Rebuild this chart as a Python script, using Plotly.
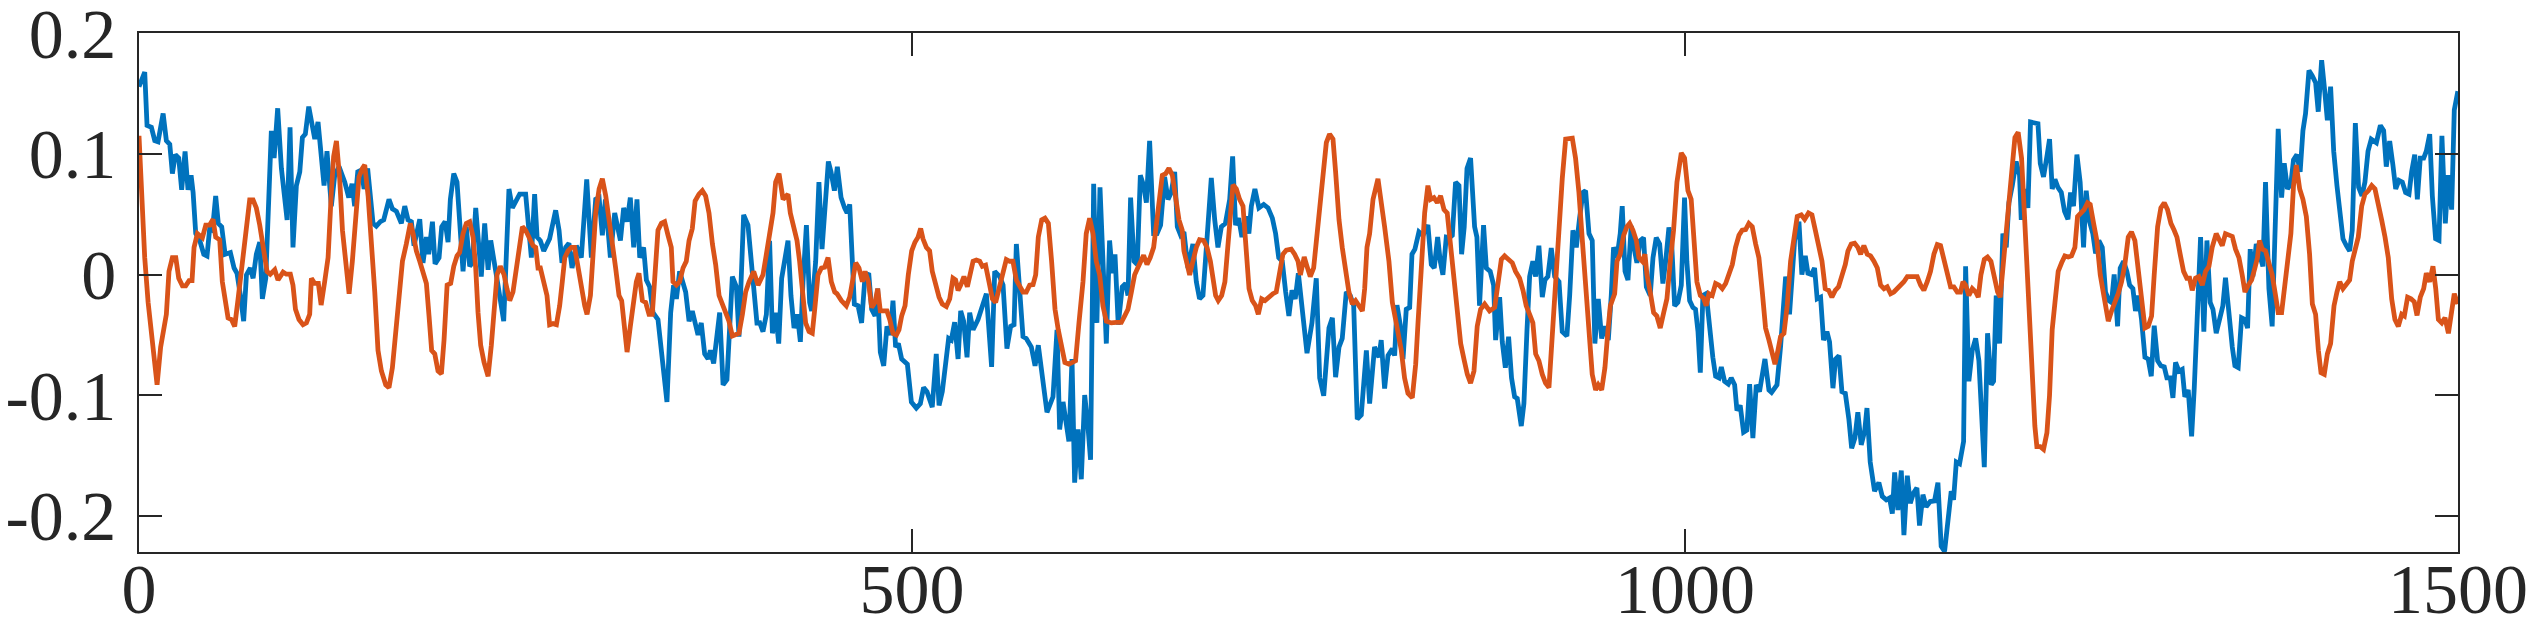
import plotly.graph_objects as go

blue_x = [0, 3.7, 5.2, 8, 10.2, 12.3, 15.6, 17.7, 19.9, 21.6, 23.5, 25.7, 27.6, 29.8, 31.7, 33.7, 35, 36.7, 39.3, 41.9, 44, 45.7, 47.5, 49.6, 51.3, 53.5, 55.7, 59.1, 61.5, 63.4, 65.6, 67.7, 69.5, 72, 73.8, 75.9, 78.1, 79.8, 82, 83.7, 85.6, 87.4, 89.7, 92.1, 95.8, 97.7, 99.6, 101.8, 104, 105.7, 107.6, 109.8, 111.5, 113.7, 115.8, 118, 119.7, 121.6, 124.4, 126.6, 129.4, 133.1, 135.7, 137.8, 139.5, 141.5, 143.8, 145.6, 147.9, 151.4, 153.5, 156.1, 158.3, 161.7, 163.9, 166.5, 169.7, 171.9, 174, 176.2, 177.9, 181.6, 183.7, 185.9, 187.4, 189.8, 191.5, 194.1, 195.8, 198, 199.9, 201.4, 203.6, 205.7,
          209.6, 211.7, 213.9, 215.6, 217.8, 221.4, 223.6, 225.8, 227.5, 232.2, 235.9, 239.3, 241.5, 246.2, 250.1, 253.8, 255.9, 257.5, 259.6, 261.8, 265.6, 269.5, 271.7, 273.6, 276, 278.1, 280.1, 282.9, 286.1, 289.6, 292.6, 295.4, 297.6, 299.7, 301.7, 304.9, 307.7, 311.4, 313.5, 315.7, 317.8, 320, 322.1, 323.9, 326.4, 328.2, 330.3, 332.5, 335.7, 341.5, 343.9, 345.8, 347.6, 349.7, 353.6, 355.8, 357.9, 361.6, 363.7, 365.9, 368.1, 369.6, 371.7, 375.6, 377.8, 380.3, 383.8, 386.4, 388.1, 391.1, 393.9,
          399.7, 401.5, 403.6, 405.8, 407.9, 409.7, 411.8, 413.8, 415.7, 417.6, 419.8, 421.7, 423.7, 425.8, 427.8, 429.5, 431.7, 433.8, 435.1, 437.7, 439.8, 441.8, 443.7, 445.9, 447.6, 449.8, 451.7, 454.1, 456.4, 458, 459.7, 462.7, 465.1, 467.4, 469.6, 472, 473.9, 476.1, 477.8, 479.5, 481.7, 483.8, 486, 487.7, 489.4, 491.2, 493.3, 497, 499.6, 502.8, 505.4, 507.5, 509.7, 513.1, 515.7, 517.5, 519.6, 521.8, 523.7, 525.4, 527.6, 529.8, 531.5, 533.4, 535.6, 537.3, 539.5, 542.7, 545.9, 548.1, 551.5, 553.5, 556.7, 558.9, 561.4, 563.8, 566, 567.5, 571.8, 573.9, 577.2, 579.6, 581.7, 584.7, 587.3, 591.2, 593.8, 595.5, 597.7, 601.5, 603.5,
          605.2, 607.4, 609.5, 611.7, 613.8, 615.5, 617.5, 619.6, 621.6, 623.5, 625.7, 627.8, 629.6, 631.3, 633.4, 636, 638.2, 639.7, 641.4, 643.6, 645.7, 647.7, 649.8, 651.6, 653.7, 656.3, 658.5, 660.8, 663.4, 665.6, 667.7, 669.9, 671.6, 673.8, 675.9, 678.5, 681.7, 683.9, 686, 688.2, 690.4, 693.6, 695.8, 697.9, 700.1, 702.7, 705.5, 707.4, 709.3, 711.3, 713.4, 715.8, 717.9, 719.5, 721.8, 724.4, 727.5, 730.3, 733.1, 735.2, 737.2, 739.5, 741.7, 743.8, 745.8, 747.9, 749.9, 752.5, 755.5, 758.7, 761.5, 763.7, 766.3, 769.7, 771.9, 774, 776.2, 778.3, 780.9, 783.5, 785.7, 788, 790.6, 793.9,
          796, 799.2, 802, 803.5, 805.7, 807.9, 810.7, 812.2, 813.7, 815.8, 817.6, 819.7, 821.9, 823.4, 825.3, 827.9, 830.5, 833.7, 835.9, 837.8, 840, 841.7, 843.4, 845.6, 847.7, 849.5, 851.6, 853.8, 855.5, 857.2, 859, 861.3, 863.9, 865.4, 867.1, 869.7, 871.5, 874, 876.2, 877.5, 880.1, 881.8, 883.8, 885.9, 887.8, 889.8, 891.5, 894.1, 895.8, 897.8, 899.5, 901.6, 903.4, 905.5, 907.7, 909.4, 911.3, 913.5, 915.7, 918.5, 920.6, 923.6, 925.4, 927.5, 929.7, 931.8, 934, 935.7, 937.9, 940, 941.7, 943.9, 946.1, 948.2, 950.4, 952.3, 953.8, 956, 958.1, 959.4, 961.2, 963.1, 965.2, 967.4, 968.9, 971.1, 973.2, 975, 977.5, 979.3, 981.4, 983.6, 985.7, 987.5, 989.6, 991.3, 993.3, 995.4, 997.6,
          999.7, 1001.2, 1003, 1005.1, 1006.8, 1008.4, 1009.9, 1011.6, 1013.7, 1015.9, 1018, 1019.8, 1022, 1023.5, 1025.6, 1028, 1029.9, 1032.1, 1033.6, 1035.7, 1037.9, 1040, 1041.8, 1043.9, 1046.1, 1048.2, 1051.7, 1054.3, 1056, 1059.5, 1061.8, 1065.1, 1067.6, 1070.9, 1073.7, 1075.6, 1077.8, 1079.5, 1081.7, 1083.8, 1085.5, 1087.7, 1089.6, 1091.8, 1093.5, 1095.7, 1097.4, 1099.6, 1101.5, 1103.7, 1106, 1107.8, 1109.9, 1111.8, 1114, 1116.2, 1117.7, 1119.8, 1122.6, 1125.4, 1127.6, 1130.2, 1132.3, 1134.1, 1135.6, 1137.7, 1139.9, 1141.6, 1143.8, 1145.7, 1147.8, 1150, 1151.7, 1153.9, 1156, 1158.6, 1161.4, 1163.6, 1165.7, 1167.9, 1170.1, 1172.2, 1173.7, 1175.5, 1177.6, 1180.2, 1181.5, 1183.6, 1185.8, 1188, 1190.1, 1191.6, 1193.6, 1195.7,
          1198.1, 1199.6, 1201.3, 1203.5, 1205.6, 1207.8, 1209.5, 1211.7, 1214.2, 1216.4, 1217.5, 1219.6, 1221.8, 1223.5, 1226.1, 1228.3, 1229.8, 1231.9, 1234.1, 1235.8, 1237.5, 1239.3, 1241.2, 1243.4, 1245.5, 1247.7, 1249.4, 1251.3, 1253.5, 1255.6, 1257.8, 1259.5, 1261.7, 1263.8, 1265.6, 1267.7, 1269.9, 1272, 1274.2, 1275.9, 1277.6, 1279.8, 1281.5, 1283.7, 1285.8, 1287.6, 1289.7, 1291.4, 1293.2, 1295.3, 1297.5, 1299.6, 1301.6, 1303.5, 1305.7, 1307.8, 1310, 1311.7, 1313.9, 1315.6, 1317.3, 1319.5, 1321.6, 1323.3, 1325.5, 1327.7, 1329.4, 1331.5, 1333.5, 1335.6, 1337.6, 1339.7, 1341.5, 1343.6, 1345.8, 1347.9, 1349.6, 1351.8, 1354, 1355.7, 1357.8, 1360, 1362.1, 1363.9, 1365.6, 1367.3, 1369.5, 1371.6, 1373.8, 1375.5, 1377.7, 1379.8, 1382, 1383.7, 1385.9, 1387.6, 1389.7, 1391.9, 1393.6, 1395.8, 1397.9, 1399.7, 1401.4, 1403.6, 1405.7, 1407.9, 1409.6,
          1411.8, 1413.7, 1415.5, 1417.6, 1419.6, 1421.7, 1423.9, 1425.6, 1427.8, 1429.9, 1431.6, 1433.6, 1435.7, 1437.9, 1439.8, 1441.8, 1443.9, 1447.2, 1449.8, 1451.9, 1453.6, 1455.8, 1457.9, 1459.7, 1461.8, 1464, 1466.1, 1468.3, 1470, 1472, 1473.7, 1475.6, 1477.8, 1479.5, 1481.7, 1483.4, 1485.5, 1487.7, 1489.6, 1491.8, 1493.7, 1495.9, 1497.6, 1499.9]

blue_y = [0.1557, 0.1677, 0.1236, 0.122, 0.111, 0.110, 0.1335, 0.111, 0.108, 0.0837, 0.0994, 0.0965, 0.0703, 0.102, 0.0703, 0.0823, 0.068, 0.0339, 0.0282, 0.0168, 0.0154, 0.038, 0.0367, 0.0652, 0.0424, 0.0396, 0.0168, 0.0182, 0.0054, 0.001, -0.0174, -0.0387, -0.0003, 0.0054, -0.0031, 0.0168, 0.0268, -0.0202, -0.003, 0.0595, 0.119, 0.0965, 0.1378, 0.088, 0.0453, 0.122, 0.0225, 0.0737, 0.0851, 0.1136, 0.1164, 0.1392, 0.125, 0.1122, 0.1264, 0.0965, 0.0737, 0.1022, 0.0567, 0.0823, 0.0894, 0.0766, 0.0638, 0.0752, 0.0567, 0.0851, 0.0865, 0.0709, 0.088, 0.0424, 0.0401, 0.0438, 0.0453, 0.0623, 0.0544, 0.0524, 0.0424, 0.0567, 0.0453, 0.0438, 0.0239, 0.0458, 0.0097, 0.031, 0.0168, 0.0438, 0.0088, 0.014, 0.0396, 0.0438, 0.0268, 0.0623, 0.0837, 0.0766,
          0.0026, 0.0396, 0.0068, 0.0097, 0.0552, -0.0017, 0.0424, 0.004, 0.0282, -0.0088, -0.0387, 0.0709, 0.0552, 0.0666, 0.0666, 0.014, 0.0666, 0.031, 0.028, 0.0196, 0.0296, 0.0532, 0.0367, 0.0097, 0.0225, 0.0259, 0.0054, 0.0239, 0.014, 0.0789, 0.014, 0.0623, 0.0638, 0.0325, 0.0623, 0.014, 0.051, 0.0282, 0.0552, 0.0438, 0.0638, 0.0225, 0.0623, 0.014, 0.0225, -0.0046, -0.0102, -0.0316, -0.0373, -0.1056, -0.0316, -0.0088, -0.0202, 0.0026, -0.0145, -0.0387, -0.0302, -0.0501, -0.0401, -0.0658, -0.07, -0.0629, -0.0737, -0.0316, -0.0914, -0.0871, -0.0017, -0.0102, -0.0515, 0.0495, 0.041,
          -0.0401, -0.040, -0.0473, -0.033, 0.028, -0.0487, -0.0316, -0.0572, -0.0031, 0.011, 0.028, -0.0174, -0.0444, -0.033, -0.0558, -0.006, 0.041, -0.0231, -0.0302, 0.011, 0.0766, 0.021, 0.0567, 0.0937, 0.0851, 0.0695, 0.0894, 0.0638, 0.0552, 0.051, 0.0581, -0.0245, -0.0259, -0.0401, -0.0017, 0.0011, -0.0288, -0.0344, -0.0117, -0.0643, -0.0757, -0.043, -0.0501, -0.0216, -0.0601, -0.0572, -0.07, -0.0743, -0.1056, -0.1107, -0.107, -0.0937, -0.0971, -0.1099, -0.0658, -0.1085, -0.0971, -0.0757, -0.053, -0.0544, -0.0396, -0.07, -0.0302, -0.0387, -0.0686, -0.0316, -0.0458, -0.0373, -0.0259, -0.0159, -0.0766, 0.0026, -0.0017, -0.0088, -0.0615, -0.043, -0.0416, 0.0253, -0.0515, -0.053, -0.0601, -0.0757, -0.0586, -0.0857, -0.1142, -0.1014, -0.0458, -0.1284, -0.1056, -0.1384, -0.07,
          -0.1725, -0.1284, -0.1697, -0.0999, -0.1256, -0.1535, 0.0752, -0.0401, 0.0723, 0.0054, -0.0572, 0.0282, 0.0011, 0.0168, -0.0416, -0.0102, -0.0074, -0.0174, 0.0638, 0.011, 0.0083, 0.0823, 0.0737, 0.0595, 0.1107, 0.0339, 0.0339, 0.041, 0.0809, 0.0623, 0.068, 0.0851, 0.0396, 0.0325, 0.0353, 0.0054, 0.0253, -0.006, -0.0202, -0.0174, 0.0282, 0.08, 0.0453, 0.0225, 0.0396, 0.0424, 0.0623, 0.0979, 0.041, 0.0467, 0.031, 0.0481, 0.0339, 0.0567, 0.0709, 0.0552, 0.0581, 0.0552, 0.0467, 0.0339, 0.014, 0.011, -0.0145, -0.0344, -0.0131, -0.0202, 0.0011, -0.0302, -0.0652, -0.0401, -0.0031, -0.0857, -0.1005, -0.0444, -0.0359, -0.0851, -0.0601, -0.053, -0.0145, -0.0174, -0.0259, -0.1199, -0.1164, -0.0629,
          -0.107, -0.0601, -0.0686, -0.0544, -0.0945, -0.0672, -0.0615, -0.0672, -0.0253, -0.0416, -0.07, -0.0288, -0.0273, 0.0168, 0.021, 0.0353, 0.0325, 0.041, 0.0083, 0.0054, 0.031, 0.011, -0.0003, 0.031, 0.0305, 0.0325, 0.0766, 0.0737, 0.0168, 0.0396, 0.088, 0.0965, 0.0396, 0.031, -0.0259, 0.041, 0.0054, 0.0026, -0.0088, -0.0544, -0.0188, -0.0558, -0.0772, -0.0515, -0.0857, -0.1014, -0.1028, -0.1256, -0.107, -0.0458, -0.0017, 0.011, -0.0017, 0.0239, -0.0188, -0.0046, -0.0017, 0.0219, -0.0017, -0.006, -0.0473, -0.051, -0.0174, 0.0367, 0.0225, 0.0467, 0.068, 0.0695, 0.0339, 0.0282, -0.0572, -0.0202, -0.053, -0.043, -0.0544, -0.0174, 0.0225, 0.014, 0.0339, 0.0567, 0.0026, -0.0046, 0.0401, 0.0196, 0.0097, 0.0282, 0.0305, -0.0102, -0.0174, 0.014, 0.0305, 0.0253, -0.0074, 0.011, 0.039, 0.0282, -0.0259, -0.0231, -0.0088,
          0.0638, 0.011, -0.0216, -0.0273, -0.0288, -0.0473, -0.0814, -0.0174, -0.0159, -0.0487, -0.0686, -0.0843, -0.0857, -0.0766, -0.0885, -0.0908, -0.0857, -0.0914, -0.1127, -0.1085, -0.1307, -0.129, -0.0908, -0.1355, -0.0914, -0.0971, -0.07, -0.0957, -0.0977, -0.0914, -0.0601, -0.0017, -0.033, 0.0282, 0.0438, 0.0, 0.0154, 0.0011, 0.0, 0.0054, -0.0202, -0.0188, -0.0544, -0.0473, -0.0558, -0.0942, -0.07, -0.0672, -0.0971, -0.0985, -0.1199, -0.1441, -0.1355, -0.1142, -0.1412, -0.1298, -0.1107, -0.1554, -0.1796, -0.1725, -0.1839, -0.1868, -0.1853, -0.1981, -0.164, -0.1953, -0.1625, -0.2161, -0.1668, -0.1896, -0.1811, -0.1768, -0.2081, -0.1825, -0.1925, -0.1882, -0.1876, -0.1725, -0.2252, -0.2295, -0.1996, -0.1796, -0.1868, -0.1554, -0.1569, -0.1384, 0.0068, -0.0885, -0.0629, -0.053, -0.0715, -0.1199, -0.1597, -0.0487,
          -0.0914, -0.0885, -0.0174, -0.0572, 0.0339, 0.0225, 0.0595, 0.0737, 0.0937, 0.0823, 0.0453, 0.0709, 0.0552, 0.1264, 0.1256, 0.125, 0.0922, 0.0809, 0.0979, 0.1122, 0.0709, 0.0789, 0.0723, 0.068, 0.0524, 0.0458, 0.068, 0.0567, 0.0994, 0.0766, 0.0225, 0.0695, 0.0438, 0.0339, 0.0174, 0.0282, 0.0225, -0.0145, -0.0216, -0.0231, 0.0, -0.043, 0.0054, 0.011, 0.0026, -0.0088, -0.0117, -0.0302, -0.0174, -0.0373, -0.0686, -0.07, -0.0843, -0.0424, -0.0715, -0.0757, -0.0766, -0.0857, -0.0857, -0.1022, -0.0729, -0.08, -0.0786, -0.1014, -0.0957, -0.1341, -0.0942, -0.0202, 0.031, -0.0473, 0.0282, -0.0231, -0.0288, -0.0487, -0.0344, -0.0259, -0.0026, -0.0344, -0.0601, -0.0757, -0.0772, -0.0359, -0.0373, -0.0444, 0.021, -0.0017, 0.0253, 0.0168, 0.0068, 0.0766, -0.0117, -0.043, 0.0424, 0.1207, 0.0638, 0.0922, 0.0709, 0.0752, 0.0951, 0.0994, 0.0851, 0.1193, 0.1335, 0.1691, 0.1648, 0.1591, 0.135,
          0.1776, 0.1534, 0.1278, 0.1557, 0.1022, 0.0737, 0.0481, 0.0296, 0.0239, 0.0196, 0.0367, 0.1256, 0.0723, 0.0652, 0.0766, 0.1022, 0.1122, 0.1093, 0.1236, 0.1193, 0.0894, 0.1107, 0.0908, 0.0709, 0.078, 0.0766, 0.068, 0.0666, 0.0851, 0.0994, 0.0623, 0.0965, 0.0965, 0.1022, 0.1164, 0.0652, 0.0296, 0.0282, 0.115, 0.0424, 0.0823, 0.0538, 0.1364, 0.152]

orange_x = [0, 1.5, 3.7, 5.9, 9.1, 11.7, 14, 16.6, 17.7, 19.4, 21.6, 23.8, 25.7, 28.1, 30.2, 32.4, 34.3, 35.6, 37.8, 41, 43.2, 45.7, 47.9, 49.6, 52.2, 53.9, 55.9, 57.6, 59.8, 61.9, 64.1, 66.9, 69.5, 71.6, 73.8, 75.9, 78.1, 80.2, 82.8, 84.9, 87.8, 89.9, 93.2, 95.3, 97.9, 99.6, 101.2, 103.5, 106.1, 108.3, 110.4, 111.5, 113.7, 116, 117.8, 120.1, 122.3, 124.4, 125.9, 127.7, 129.8, 131.6, 133.7, 135.9, 138, 140.2, 142.3, 144.5, 146, 148.2, 150.3, 152.5, 154.6, 156.8, 159.6, 161.7, 163.9, 166, 168.2, 170.4, 172.9, 175.5, 177.3, 179.4, 181.6, 183.7, 185.9, 187.6, 189.3, 191.3, 193.4, 195.6, 197.3, 199.3, 201.6, 203.6, 205.7, 207.4,
            209.6, 211.7, 213.9, 216.1, 217.8, 219.3, 221, 223.2, 225.8, 227.9, 229.6, 231.6, 233.7, 236.1, 238, 239.8, 241.9, 244.1, 246.2, 248, 250.1, 252.3, 254.9, 256.6, 258.1, 259.6, 261.8, 263.9, 265.6, 267.8, 270, 272.1, 273.8, 275.4, 277.5, 279.7, 281.8, 284, 286.1, 288.3, 289.8, 292, 293.7, 295.4, 297.6, 299.7, 301.9, 304, 306.2, 308.3, 310.5, 312.2, 313.5, 315.7, 317.8, 320, 321.7, 323.4, 325.6, 327.7, 329.9, 332, 333.8, 335.7, 337.9, 340, 342.2, 344.3, 345.4, 347.6, 349.7, 351.9, 354, 355.8, 357.9, 359.7, 362.2, 364.4, 366.5, 368.7, 370.9, 373, 375.2, 377.3, 379.5, 381.6, 383.8, 386, 388.1, 390.3, 392.4, 394.6,
            397.6, 400.4, 403.6, 405.8, 407.9, 410.1, 411.8, 414, 416.6, 418.3, 419.8, 421.3, 423.5, 425.6, 427.3, 429.1, 431.2, 433.4, 435.5, 437.3, 439.2, 441.4, 443.5, 445.7, 447.8, 450, 451.5, 454.3, 457.5, 459.7, 461.8, 463.6, 465.7, 467.9, 469.6, 471.8, 473.9, 476.1, 477.8, 479.5, 481.7, 483.8, 485.6, 487.7, 489.9, 491.6, 493.3, 495.5, 497.6, 499.8, 501.9, 503.9, 505.6, 507.1, 509.3, 511.4, 513.1, 515.3, 517.5, 519.6, 522.2, 524.4, 526.5, 528.2, 529.8, 531.5, 533.6, 535.8, 537.9, 539.5, 541.6, 543.8, 545.5, 547.6, 549.8, 552, 554.1, 556.3, 558.4, 561, 563.2, 565.3, 567.5, 569.6, 571.8, 573.9, 576.1, 578.3, 580, 581.7, 583.9, 586, 588.2, 590.3, 592.5, 594.6, 596.8, 598.9, 601.5, 603.7,
            605.8, 608, 610.6, 612.7, 614.9, 617.1, 619.2, 621.4, 623.5, 625.7, 628.9, 632.2, 635.4, 637.5, 639.7, 641.9, 644, 646.2, 648.3, 649.8, 652, 654.1, 656.3, 658.5, 660.2, 661.9, 664.1, 666.2, 668.4, 670.5, 672.7, 674.8, 675.9, 678, 679.6, 681.7, 683.9, 686, 688.6, 690.8, 693, 694.7, 696.4, 698.1, 700.3, 702.4, 704.2, 705.9, 707.6, 709.8, 711.9, 714.1, 715.8, 718, 720.1, 722.3, 724, 726.2, 728.3, 730.5, 733.5, 735.6, 737.8, 739.9, 742.1, 745.3, 747.5, 749.7, 751.2, 753.7, 755.5, 757.6, 759.8, 761.5, 763.7, 765.8, 768, 770.1, 772.3, 774, 776.2, 778.3, 780.5, 782.6, 784.8, 786.9, 789.1, 791.3, 792.8, 794.3,
            796, 798.2, 801.4, 803.5, 805.7, 808.5, 810.7, 813.2, 816.5, 818.6, 820.8, 823.6, 825.8, 827.3, 829.4, 831.6, 833.7, 835.5, 837.6, 839.8, 841.9, 844.1, 846.2, 848.4, 850.5, 852.7, 854.9, 857, 859.2, 861.3, 863.5, 865.6, 867.8, 870.4, 873.6, 876.9, 879, 881.2, 883.3, 886.1, 888.3, 890.4, 893, 895.2, 897.3, 899.5, 901.6, 903.4, 905.5, 907.7, 909.8, 912, 914.1, 916.3, 918.5, 920.6, 922.8, 924.9, 927.1, 929.2, 931.4, 933.6, 935.7, 937.9, 940, 942.2, 943.9, 946.1, 948.2, 950.2, 951.7, 954.5, 956, 958.1, 960.3, 962.4, 964.2, 966.3, 968.5, 970.2, 972.4, 974.1, 975.4, 977.5, 979.7, 981.8, 984, 986.2, 988.3, 990.5, 992.6, 994.8,
            997.6, 999.7, 1001.9, 1004, 1005.6, 1007.7, 1009.9, 1012, 1013.7, 1015.5, 1017.6, 1019.8, 1022, 1024.1, 1026.3, 1028.4, 1030.6, 1032.7, 1034.9, 1037, 1039.2, 1041.3, 1043.5, 1045.7, 1047.8, 1050, 1052.1, 1054.3, 1056.4, 1058.2, 1060.1, 1061.8, 1064, 1066.1, 1068.3, 1070.5, 1072.6, 1075.2, 1077.4, 1079.9, 1082.1, 1084.3, 1086.4, 1088.6, 1090.7, 1092.9, 1095, 1097.2, 1099.3, 1101.5, 1103.7, 1105.4, 1107.5, 1109.7, 1111.8, 1113.6, 1115.7, 1117.9, 1120, 1122.2, 1124.4, 1126.5, 1128.7, 1130.8, 1133, 1135.1, 1137.3, 1139.4, 1141.6, 1143.8, 1145.9, 1148.1, 1150.2, 1152.4, 1154.5, 1156.7, 1158.8, 1161, 1163.2, 1165.3, 1167.5, 1169.6, 1171.8, 1173.9, 1176.1, 1178.2, 1179.8, 1181.5, 1183.6, 1185.8, 1188, 1189.7, 1191.4, 1193.6, 1195.7, 1197.9, 1200, 1202.2, 1203.9,
            1205.6, 1207.8, 1209.5, 1211.7, 1213.4, 1215.5, 1217.7, 1219.4, 1221.1, 1222.9, 1224.6, 1226.3, 1227.6, 1229.8, 1231.9, 1234.1, 1235.8, 1237.5, 1239.3, 1241.4, 1243.6, 1245.7, 1247.9, 1250, 1252.2, 1253.9, 1256.1, 1258.2, 1260.4, 1262.1, 1264.3, 1266.4, 1268.6, 1270.7, 1273.8, 1275.9, 1278.1, 1280.2, 1282.4, 1284.5, 1286.7, 1288.8, 1291, 1293.2, 1295.3, 1297.5, 1299.6, 1301.8, 1303.5, 1305.7, 1307.8, 1310, 1312.1, 1314.3, 1316.4, 1318.2, 1320.3, 1322.5, 1324.6, 1326.4, 1328.1, 1330.2, 1332.4, 1334.6, 1336.7, 1338.9, 1341, 1343.6, 1345.8, 1347.5, 1349.6, 1351.8, 1354, 1356.1, 1358.3, 1360.4, 1362.2, 1364.3, 1366.5, 1368.6, 1370.3, 1371.6, 1373.4, 1375.5, 1377.7, 1379.8, 1382, 1383.7, 1385.9, 1387.6, 1389.7, 1391.9, 1393.6,
            1395.4, 1397.6, 1399.7, 1401.9, 1404, 1405.8, 1407.9, 1409.7, 1411.4, 1413.5, 1415.5, 1417.6, 1419.8, 1421.7, 1423.5, 1425.6, 1427.8, 1429.9, 1431.6, 1433.4, 1435.5, 1437.7, 1439.8, 1442, 1444.2, 1446.3, 1448.5, 1450.6, 1452.8, 1454.9, 1457.1, 1459.2, 1461.4, 1463.6, 1465.3, 1467.4, 1469.6, 1471.7, 1473.5, 1475.6, 1477.8, 1479.5, 1481.7, 1483.8, 1485.6, 1487.3, 1489.5, 1491.6, 1493.8, 1495.9, 1497.6, 1499.9]

orange_y = [0.115, 0.068, 0.014, -0.0231, -0.0601, -0.0914, -0.0601, -0.0401, -0.033, 0.0026, 0.014, 0.014, -0.0031, -0.0094, -0.0094, -0.0051, -0.0051, 0.0225, 0.0339, 0.0305, 0.041, 0.041, 0.0458, 0.031, 0.0288, -0.006, -0.0216, -0.0359, -0.0373, -0.043, -0.0202, 0.011, 0.0453, 0.0618, 0.0618, 0.0552, 0.041, 0.0225, 0.0026, 0.0003, 0.004, -0.0046, 0.002, 0.0003, 0.0003, -0.0088, -0.0288, -0.0373, -0.0416, -0.0401, -0.033, -0.0031, -0.0074, -0.0074, -0.0253, -0.006, 0.014, 0.068, 0.0979, 0.1107, 0.0794, 0.0367, 0.014, -0.0159, 0.011, 0.0424, 0.0809, 0.088, 0.0908, 0.0652, 0.0282, -0.0145, -0.0629, -0.08, -0.0914, -0.0937, -0.0772, -0.0458, -0.0117, 0.011, 0.0253, 0.0424, 0.0339, 0.0196, 0.011, 0.0026, -0.0074, -0.0344, -0.0629, -0.0658, -0.08, -0.0823, -0.0544, -0.0088, -0.0074, 0.0068, 0.0154, 0.0182,
            0.0339, 0.0424, 0.0438, 0.031, 0.0054, -0.0316, -0.0586, -0.0729, -0.0843, -0.0586, -0.0259, 0.0, 0.0068, 0.0, -0.0117, -0.0216, -0.0145, 0.0054, 0.0282, 0.0396, 0.0367, 0.0296, 0.0239, 0.0225, 0.0054, 0.0054, -0.0088, -0.0174, -0.0416, -0.0407, -0.0416, -0.0259, -0.006, 0.014, 0.0196, 0.0225, 0.0225, 0.0054, -0.0145, -0.0259, -0.033, -0.0174, 0.0168, 0.051, 0.0709, 0.0794, 0.0652, 0.0481, 0.0253, 0.0054, -0.0174, -0.0216, -0.0401, -0.0643, -0.043, -0.0202, -0.006, 0.0011, -0.0216, -0.0231, -0.033, -0.033, 0.0054, 0.0367, 0.0424, 0.0438, 0.0325, 0.0225, -0.006, -0.0088, -0.006, 0.0054, 0.011, 0.0282, 0.0381, 0.0609, 0.0666, 0.0695, 0.0652, 0.051, 0.0253, 0.0083, -0.0174, -0.0245, -0.0316, -0.0387, -0.051, -0.0501, -0.0487, -0.033, -0.0145, -0.006,
            0.0026, -0.0088, -0.0003, 0.0168, 0.0367, 0.051, 0.0766, 0.0837, 0.0623, 0.0652, 0.0666, 0.051, 0.0396, 0.0282, 0.011, -0.0145, -0.0401, -0.0473, -0.0487, -0.0259, -0.0003, 0.0054, 0.006, 0.014, -0.006, -0.0145, -0.0159, -0.0216, -0.0259, -0.0188, -0.006, 0.0097, 0.0054, -0.006, 0.0026, -0.006, -0.0273, -0.0231, -0.0117, -0.0302, -0.0302, -0.0302, -0.0373, -0.0487, -0.0501, -0.0458, -0.0344, -0.0259, -0.0003, 0.0196, 0.0268, 0.031, 0.0381, 0.0296, 0.0225, 0.0196, 0.0026, -0.0102, -0.0188, -0.0245, -0.0265, -0.0202, -0.0031, -0.0046, -0.0131, -0.0088, -0.0017, -0.0102, 0.0011, 0.011, 0.012, 0.011, 0.0068, 0.0077, -0.006, -0.0202, -0.0231, -0.0117, -0.0003, 0.0125, 0.011, 0.011, -0.0046, -0.0088, -0.0145, -0.0145, -0.0088, -0.0083, -0.0003, 0.031, 0.0453, 0.0467, 0.0424, 0.011, -0.0288, -0.0458, -0.0601, -0.0729, -0.0743, -0.0729,
            -0.0715, -0.0401, -0.006, 0.0339, 0.0467, 0.0339, 0.011, -0.0003, -0.0259, -0.0387, -0.0401, -0.0396, -0.0396, -0.0344, -0.0288, -0.0145, -0.0003, 0.006, 0.011, 0.0159, 0.0083, 0.014, 0.0225, 0.0453, 0.0652, 0.0823, 0.0837, 0.088, 0.0823, 0.0623, 0.0453, 0.0367, 0.0196, 0.0083, -0.0003, 0.011, 0.0225, 0.0288, 0.0282, 0.0225, 0.011, -0.0031, -0.0174, -0.0216, -0.0174, -0.006, 0.0225, 0.0567, 0.0743, 0.0709, 0.0623, 0.0567, 0.0282, -0.0117, -0.0216, -0.0259, -0.033, -0.0202, -0.0216, -0.0188, -0.0159, -0.0145, -0.0003, 0.0168, 0.0202, 0.021, 0.0168, 0.011, -0.0003, 0.0145, 0.0068, -0.0017, 0.0054, 0.0282, 0.0567, 0.0823, 0.1093, 0.1164, 0.1122, 0.0851, 0.0453, 0.0225, 0.0026, -0.0145, -0.0245, -0.0216, -0.0259, -0.0302, -0.0117, 0.0225,
            0.0339, 0.0623, 0.0794, 0.0623, 0.0396, 0.011, -0.0231, -0.0401, -0.0629, -0.0857, -0.0985, -0.1022, -0.0743, -0.0401, 0.011, 0.051, 0.0737, 0.0623, 0.0638, 0.0595, 0.0652, 0.0538, 0.051, 0.0225, 0.0026, -0.0231, -0.0572, -0.07, -0.0828, -0.09, -0.08, -0.043, -0.0288, -0.0245, -0.0302, -0.0273, -0.0088, 0.0125, 0.0154, 0.0125, 0.0097, 0.0026, -0.0031, -0.0131, -0.0259, -0.033, -0.0401, -0.0658, -0.0715, -0.0828, -0.09, -0.0937, -0.0515, -0.006, 0.0453, 0.0794, 0.1122, 0.1122, 0.113, 0.0965, 0.068, 0.0282, -0.0117, -0.0458, -0.0828, -0.0957, -0.0914, -0.0957, -0.0772, -0.0458, -0.0259, -0.0159, 0.011, 0.0168, 0.0325, 0.0396, 0.0424, 0.0367, 0.0282, 0.014, 0.011, 0.0168, -0.0003, -0.0145, -0.0316, -0.0344, -0.0444, -0.0316, -0.0202, 0.011, 0.0367, 0.0766,
            0.1008, 0.0965, 0.0695, 0.0623, 0.0253, -0.006, -0.0174, -0.0196, -0.0259, -0.0159, -0.0174, -0.0074, -0.0088, -0.0117, -0.0074, 0.0011, 0.0083, 0.0225, 0.0325, 0.0367, 0.0373, 0.0424, 0.0396, 0.0253, 0.014, -0.0145, -0.0444, -0.0544, -0.0658, -0.0743, -0.0629, -0.0515, -0.0487, -0.0259, 0.011, 0.031, 0.0481, 0.0495, 0.0458, 0.051, 0.0495, 0.0367, 0.0253, 0.011, -0.0117, -0.0131, -0.0188, -0.0131, -0.0102, -0.0003, 0.0083, 0.0196, 0.0253, 0.0259, 0.0225, 0.0168, 0.0239, 0.0168, 0.0154, 0.011, 0.0054, -0.0088, -0.0117, -0.0102, -0.0159, -0.0145, -0.0117, -0.0088, -0.006, -0.0017, -0.0017, -0.0017, -0.0017, -0.0088, -0.0131, -0.006, 0.0026, 0.0168, 0.0248, 0.0239, 0.011, -0.0017, -0.0102, -0.0102, -0.0145, -0.0145, -0.006, -0.0088, -0.0174, -0.0117, -0.0145, -0.0188, -0.0003, 0.0125, 0.0145, 0.011, -0.0003, -0.0145, -0.0188,
            0.0054, 0.0339, 0.068, 0.0908, 0.1136, 0.1179, 0.0965, 0.0538, 0.011, -0.0373, -0.0914, -0.1256, -0.1427, -0.1427, -0.1449, -0.1312, -0.0999, -0.0458, -0.0231, 0.0026, 0.0097, 0.0154, 0.0145, 0.0154, 0.0225, 0.0481, 0.051, 0.0538, 0.0595, 0.0581, 0.0424, 0.0282, -0.0003, -0.0174, -0.0387, -0.0302, -0.0231, -0.0159, -0.006, 0.0083, 0.031, 0.0353, 0.0282, 0.0054, -0.0231, -0.0444, -0.043, -0.0344, -0.0003, 0.0396, 0.0552, 0.0595, 0.0538, 0.0424, 0.0367, 0.031, 0.0168, 0.0026, -0.0031, -0.0031, -0.0131, -0.0031, -0.0017, -0.0088, 0.0026, 0.0068, 0.0225, 0.0339, 0.0282, 0.0239, 0.0339, 0.0325, 0.0316, 0.021, 0.014, -0.0003, -0.0145, -0.0088, -0.0046, 0.0054, 0.014, 0.0282, 0.021, 0.0196, 0.0083, -0.0003, -0.0174, -0.0316, -0.0316, -0.0145, 0.0054, 0.0339, 0.0737,
            0.0908, 0.0709, 0.0623, 0.0481, 0.0168, -0.0245, -0.033, -0.0629, -0.0814, -0.0828, -0.0658, -0.0572, -0.0259, -0.0145, -0.006, -0.0117, -0.0074, -0.0046, 0.011, 0.021, 0.031, 0.0567, 0.0666, 0.0695, 0.0737, 0.0709, 0.0595, 0.0453, 0.031, 0.014, -0.0202, -0.0373, -0.043, -0.033, -0.0344, -0.0188, -0.0202, -0.0225, -0.0339, -0.0188, -0.0117, 0.0011, -0.006, 0.0068, -0.0117, -0.0373, -0.0401, -0.0359, -0.0487, -0.033, -0.0159, -0.0245]

y_ticks = [-0.2, -0.1, 0, 0.1, 0.2]
y_tick_text = ['-0.2', '-0.1', '0', '0.1', '0.2']
x_ticks = [0, 500, 1000, 1500]
x_tick_text = ['0', '500', '1000', '1500']

BLUE = '#0072BD'
ORANGE = '#D95319'
AX = '#262626'

fig = go.Figure()
fig.add_trace(go.Scatter(x=blue_x, y=blue_y, mode='lines',
                         line=dict(color=BLUE, width=4.8), hoverinfo='skip'))
fig.add_trace(go.Scatter(x=orange_x, y=orange_y, mode='lines',
                         line=dict(color=ORANGE, width=4.8), hoverinfo='skip'))

axis_common = dict(showgrid=False, zeroline=False, showline=True, linecolor=AX,
                   linewidth=1.6, mirror='ticks', ticks='inside', ticklen=23,
                   tickwidth=1.6, tickcolor=AX, automargin=False,
                   ticklabeloverflow='allow',
                   tickfont=dict(family='Liberation Serif', size=70, color=AX))

fig.update_xaxes(range=[0, 1500], tickvals=x_ticks, ticktext=x_tick_text,
                 ticklabelstandoff=-25, **axis_common)
fig.update_yaxes(range=[-0.23, 0.2002], tickvals=y_ticks, ticktext=y_tick_text,
                 ticklabelstandoff=7, **axis_common)

fig.update_layout(width=2530, height=628,
                  margin=dict(l=139, r=72, t=33, b=76, pad=0),
                  paper_bgcolor='white', plot_bgcolor='white',
                  showlegend=False)

fig.write_html("out.html",
               config={'displayModeBar': False},
               post_script="document.body.style.margin='0';document.body.style.overflow='hidden';")
